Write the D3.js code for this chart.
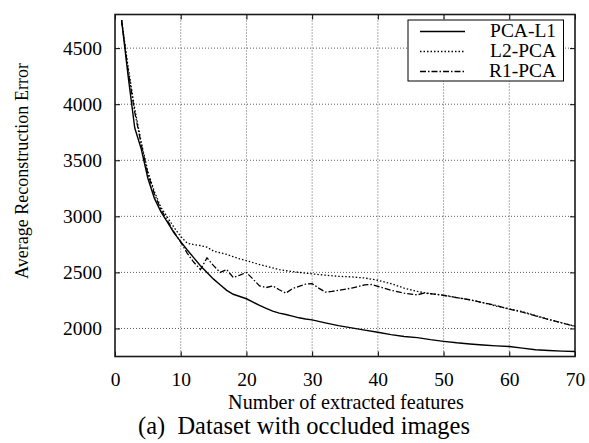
<!DOCTYPE html>
<html>
<head>
<meta charset="utf-8">
<script src="https://cdn.jsdelivr.net/npm/d3@7"></script>
<style>
  html, body { margin: 0; padding: 0; background: #fff; }
  svg { display: block; }
</style>
</head>
<body>
<svg id="chart" width="589" height="443"></svg>
<script>
// Number of extracted features (x) and average reconstruction error per method
const pcaL1X = [1,2,3,4,5,6,7,8,9,10,11,12,13,14,15,16,17,18,19,20,21,22,23,24,25,26,27,28,29,30,32,34,36,38,40,42,44,46,48,50,52,54,56,58,60,62,64,66,68,70];
const pcaL1Y = [4750,4250,3790,3600,3340,3160,3040,2945,2850,2775,2700,2630,2560,2500,2440,2390,2340,2305,2285,2265,2235,2205,2180,2155,2137,2125,2110,2095,2085,2077,2050,2025,2005,1985,1966,1945,1928,1918,1900,1885,1872,1862,1853,1845,1839,1825,1810,1803,1798,1795];

const l2pcaX = [1,2,3,4,5,6,7,8,9,10,11,12,13,14,15,16,17,18,19,20,22,24,25,26,28,30,32,34,36,38,40,42,44,46,48,50,52,54,56,58,60,62,64,66,68,70];
const l2pcaY = [4750,4330,3960,3660,3400,3220,3080,2990,2900,2820,2760,2748,2740,2725,2690,2675,2660,2640,2620,2605,2570,2540,2525,2515,2500,2487,2475,2465,2460,2450,2430,2400,2360,2330,2310,2298,2275,2256,2230,2200,2175,2150,2115,2080,2050,2020];

const r1pcaX = [1,2,3,4,5,6,7,8,9,10,11,12,13,14,15,16,17,18,19,20,21,22,23,24,25,26,27,28,29,30,31,32,33,34,36,38,39,40,42,44,46,47,48,50,52,54,56,58,60,62,64,66,68,70];
const r1pcaY = [4750,4300,3930,3640,3380,3200,3060,2960,2860,2770,2670,2590,2525,2630,2560,2500,2525,2455,2475,2500,2440,2380,2365,2380,2345,2315,2355,2375,2395,2400,2360,2325,2330,2340,2360,2388,2392,2375,2340,2315,2300,2315,2310,2295,2275,2256,2230,2205,2172,2145,2112,2080,2050,2020];

const xTicks = [0,10,20,30,40,50,60,70];
const yTicks = [2000,2500,3000,3500,4000,4500];
const seriesNames = ["PCA-L1", "L2-PCA", "R1-PCA"];

const xTitle = "Number of extracted features";
const yTitle = "Average Reconstruction Error";
const caption = "(a)  Dataset with occluded images";

const serif = "'Liberation Serif', 'Times New Roman', Tinos, 'Nimbus Roman', 'DejaVu Serif', serif";

// Stroke pattern per method
const dashes = { "PCA-L1": null, "L2-PCA": "1.5,2", "R1-PCA": "6,2,1.5,2" };

const series = [
  { name: seriesNames[0], pts: pcaL1X.map((x, i) => [x, pcaL1Y[i]]) },
  { name: seriesNames[1], pts: l2pcaX.map((x, i) => [x, l2pcaY[i]]) },
  { name: seriesNames[2], pts: r1pcaX.map((x, i) => [x, r1pcaY[i]]) }
];

const svg = d3.select("#chart");
const plot = { left: 115, top: 14.5, right: 575, bottom: 356.5 };

const x = d3.scaleLinear().domain([0, 70]).range([plot.left, plot.right]);
const y = d3.scaleLinear().domain([1750, 4800]).range([plot.bottom, plot.top]);

const ink = "#000";

// Font size that makes `str` span `width` pixels in the serif face actually available
function sizeFor(str, width) {
  const probe = svg.append("text").style("font-family", serif).style("font-size", "20px").text(str);
  const w = probe.node().getComputedTextLength();
  probe.remove();
  return w > 0 ? 20 * width / w : 20;
}
const tickSize = sizeFor("4500", 39);
const legendSize = sizeFor("PCA-L1", 66);
const xTitleSize = sizeFor(xTitle, 236);
const yTitleSize = sizeFor(yTitle, 216);
const captionSize = sizeFor(caption, 326);

// Dotted grid
const grid = svg.append("g").attr("stroke", "#333").attr("stroke-width", 0.8).attr("stroke-dasharray", "1,2");
grid.selectAll("line.gx").data(xTicks.slice(1, -1)).join("line")
  .attr("x1", d => x(d)).attr("x2", d => x(d)).attr("y1", plot.top).attr("y2", plot.bottom);
grid.selectAll("line.gy").data(yTicks).join("line")
  .attr("y1", d => y(d)).attr("y2", d => y(d)).attr("x1", plot.left).attr("x2", plot.right);

// Axes: inward ticks on all four sides
const tickLen = 5;
const fmt = d3.format("d");
const axB = svg.append("g").attr("transform", `translate(0,${plot.bottom})`)
  .call(d3.axisBottom(x).tickValues(xTicks).tickFormat(fmt).tickSizeInner(-tickLen).tickSizeOuter(0).tickPadding(16));
const axT = svg.append("g").attr("transform", `translate(0,${plot.top})`)
  .call(d3.axisTop(x).tickValues(xTicks).tickSizeInner(-tickLen).tickSizeOuter(0).tickFormat(""));
const axL = svg.append("g").attr("transform", `translate(${plot.left},0)`)
  .call(d3.axisLeft(y).tickValues(yTicks).tickFormat(fmt).tickSizeInner(-tickLen).tickSizeOuter(0).tickPadding(13));
const axR = svg.append("g").attr("transform", `translate(${plot.right},0)`)
  .call(d3.axisRight(y).tickValues(yTicks).tickSizeInner(-tickLen).tickSizeOuter(0).tickFormat(""));

[axB, axT, axL, axR].forEach(a => {
  a.attr("font-family", null).attr("font-size", null);
  a.select(".domain").remove();
  a.selectAll(".tick line").attr("stroke", ink).attr("stroke-width", 1);
  a.selectAll(".tick text").attr("fill", ink)
    .style("font-size", tickSize + "px").style("font-family", serif);
});

// Frame
svg.append("rect")
  .attr("x", plot.left).attr("y", plot.top)
  .attr("width", plot.right - plot.left).attr("height", plot.bottom - plot.top)
  .attr("fill", "none").attr("stroke", "#1a1a1a").attr("stroke-width", 1.6);

// Curves
const line = d3.line().x(d => x(d[0])).y(d => y(d[1]));
svg.append("g").selectAll("path").data(series).join("path")
  .attr("d", d => line(d.pts))
  .attr("fill", "none")
  .attr("stroke", ink)
  .attr("stroke-width", d => d.name === "PCA-L1" ? 1.4 : 1.3)
  .attr("stroke-dasharray", d => dashes[d.name]);

// Legend
const lg = svg.append("g");
lg.append("rect").attr("x", 408).attr("y", 20).attr("width", 155.5).attr("height", 61)
  .attr("fill", "#fff").attr("stroke", ink).attr("stroke-width", 1);
const rows = lg.selectAll("g.row").data(seriesNames).join("g")
  .attr("transform", (d, i) => `translate(0,${31.5 + i * 20})`);
rows.append("line").attr("x1", 420).attr("x2", 465).attr("y1", 0).attr("y2", 0)
  .attr("stroke", ink).attr("stroke-width", d => d === "PCA-L1" ? 1.4 : 1.3)
  .attr("stroke-dasharray", d => dashes[d]);
rows.append("text").attr("x", 556).attr("y", 5.5).attr("text-anchor", "end")
  .style("font-size", legendSize + "px").style("font-family", serif).attr("fill", ink).text(d => d);

// Titles
svg.append("text").attr("x", 346).attr("y", 408.5).attr("text-anchor", "middle")
  .style("font-size", xTitleSize + "px").style("font-family", serif).attr("fill", ink).text(xTitle);
svg.append("text").attr("x", 304).attr("y", 434).attr("text-anchor", "middle")
  .style("font-size", captionSize + "px").style("font-family", serif).style("white-space", "pre")
  .attr("fill", ink).text(caption);
svg.append("text").attr("transform", `translate(28,171) rotate(-90)`)
  .attr("text-anchor", "middle").style("font-size", yTitleSize + "px").style("font-family", serif)
  .attr("fill", ink).text(yTitle);
</script>
</body>
</html>
